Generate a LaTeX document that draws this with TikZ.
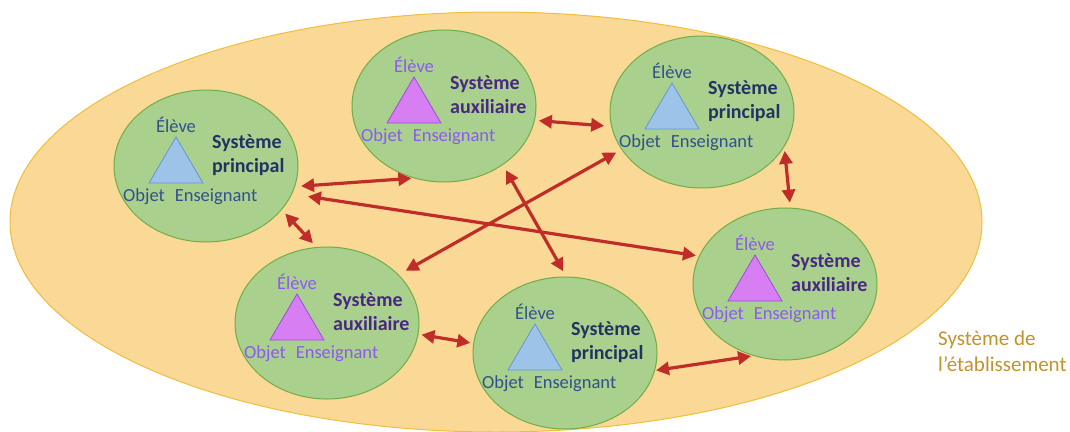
\documentclass[tikz,border=0pt]{standalone}
\usepackage{fontspec}
\setmainfont{Carlito}
\usetikzlibrary{shapes.geometric,arrows.meta}

\definecolor{etabfill}{RGB}{250,216,150}
\definecolor{etabline}{RGB}{240,190,60}
\definecolor{etabtext}{RGB}{196,146,40}
\definecolor{sysfill}{RGB}{170,208,142}
\definecolor{sysline}{RGB}{112,173,71}
\definecolor{linkred}{RGB}{192,44,40}
\definecolor{princtri}{RGB}{158,195,232}
\definecolor{princedge}{RGB}{100,150,210}
\definecolor{princtext}{RGB}{50,80,140}
\definecolor{princtitle}{RGB}{32,52,100}
\definecolor{auxtri}{RGB}{214,126,242}
\definecolor{auxedge}{RGB}{150,80,220}
\definecolor{auxtext}{RGB}{140,90,240}
\definecolor{auxtitle}{RGB}{72,40,130}

\begin{document}
\begin{tikzpicture}
    [x=1pt,y=-1pt,
     etab/.style={ellipse,draw=etabline,fill=etabfill,line width=1pt,minimum width=972pt,minimum height=420pt},
     etabname/.style={text=etabtext,font=\fontsize{21}{26}\selectfont,align=left,anchor=west,inner sep=0pt},
     sys/.style={ellipse,draw=sysline,fill=sysfill,line width=1pt,minimum width=184pt,minimum height=152pt,inner sep=0pt},
     lbl/.style={font=\fontsize{18.5}{20}\selectfont,inner sep=0pt},
     title/.style={font=\fontsize{20}{24}\selectfont\bfseries,align=left,anchor=west,inner sep=0pt},
     lbl principal/.style={lbl,text=princtext},
     lbl auxiliaire/.style={lbl,text=auxtext},
     title principal/.style={title,text=princtitle},
     title auxiliaire/.style={title,text=auxtitle},
     tri principal/.style={draw=princedge,fill=princtri,line width=0.8pt},
     tri auxiliaire/.style={draw=auxedge,fill=auxtri,line width=0.8pt},
     link/.style={draw=linkred,line width=3.2pt,<->,>={Triangle[length=13pt,width=13pt]}}]
    \useasboundingbox (0,0) rectangle (1070,431);

    \node[etab] (etab) at (496,222) {};
    \node[etabname] (etabtitle) at (938,351) {Système de\\l’établissement};

    \foreach \n/\x/\y/\k in {pL/206/166/principal,aT/444/106/auxiliaire,pT/702/112/principal,
                             aL/327/323/auxiliaire,pB/565/353/principal,aR/785/284/auxiliaire} {
      \node[sys] (\n) at (\x,\y) {};
      \draw[tri \k,shift={(\x,\y)}] (-57,17) -- (-30,-29) -- (-3,17) -- cycle;
      \node[lbl \k] (\n-e) at (\x-30,\y-41) {Élève};
      \node[lbl \k] (\n-o) at (\x-62,\y+31) {Objet};
      \node[lbl \k] (\n-s) at (\x+10,\y+31) {Enseignant};
      \node[title \k] (\n-t) at (\x+6,\y-11) {Système\\\k};
    }

    \foreach \from/\to/\sa/\sb in {pL.-13/aT.247/6pt/2pt,pL.-18/aR.162/16pt/3pt,pL.-30/aL.98/5pt/5pt,
                                   aT.-45/pB.89/6pt/6pt,pT.205/aL.34/6pt/8pt,aT.-9/pT.189/4pt/7pt,
                                   pT.-23/aR.86/4pt/5pt,aL.-7/pB.174/3pt/3pt,pB.-11/aR.246/1pt/2pt}
      \draw[link,shorten <=\sa,shorten >=\sb] (\from) -- (\to);
\end{tikzpicture}
\end{document}
